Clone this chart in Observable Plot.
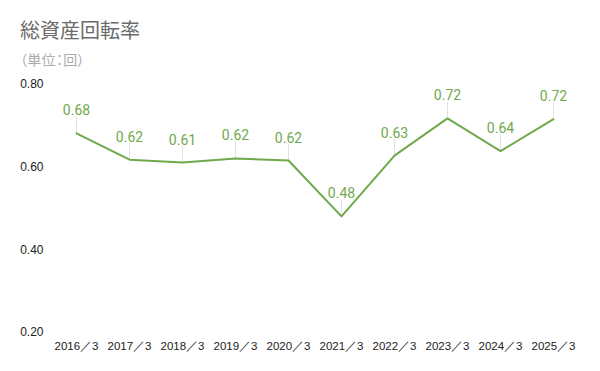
<!DOCTYPE html>
<html>
<head>
<meta charset="utf-8">
<script src="https://cdn.jsdelivr.net/npm/d3@7"></script>
<script src="https://cdn.jsdelivr.net/npm/@observablehq/plot@0.6"></script>
<style>
  html, body { margin: 0; padding: 0; background: #fff; }
  #wrap { position: relative; width: 600px; height: 371px; overflow: hidden; }
  #title { position: absolute; left: 20px; top: 20px; font: 20px/20px "Noto Sans CJK JP", sans-serif; color: #6b6b6b; white-space: nowrap; }
  #subtitle { position: absolute; left: 20px; top: 52px; font: 14px/14px "Noto Sans CJK JP", sans-serif; color: #aaaaaa; white-space: nowrap; font-feature-settings: "palt"; letter-spacing: 0.3px; }
  #chart { position: absolute; left: 0; top: 70px; }
</style>
</head>
<body>
<div id="wrap">
  <div id="title">総資産回転率</div>
  <div id="subtitle">（単位：回）</div>
  <div id="chart"></div>
</div>
<script>
const periods = ["2016／3", "2017／3", "2018／3", "2019／3", "2020／3", "2021／3", "2022／3", "2023／3", "2024／3", "2025／3"];
const turnover = [0.682, 0.618, 0.611, 0.621, 0.616, 0.481, 0.628, 0.718, 0.639, 0.716];
const yTicks = [0.2, 0.4, 0.6, 0.8];

const data = periods.map((p, i) => ({period: p, value: turnover[i]}));
const fmt = d3.format(".2f");
const green = "#6fa94c";

const chart = Plot.plot({
  width: 600,
  height: 301,
  marginTop: 14,
  marginBottom: 39,
  marginLeft: 48,
  marginRight: 19,
  style: {fontFamily: "'Liberation Sans', Arial, sans-serif", fontSize: "12px", color: "#222", background: "transparent"},
  x: {type: "point", domain: periods, padding: 0.5},
  y: {domain: [0.2, 0.8]},
  marks: [
    Plot.axisY({ticks: yTicks, tickFormat: fmt, tickSize: 0, tickPadding: 5, label: null, fontSize: 12}),
    Plot.axisX({tickSize: 0, tickPadding: 9, label: null, fontSize: 11.5}),
    Plot.ruleX(data, {x: "period", y1: "value", y2: "value", insetTop: -16, stroke: "#e2e2e2", strokeWidth: 1}),
    Plot.line(data, {x: "period", y: "value", stroke: green, strokeWidth: 2}),
    Plot.text(data, {x: "period", y: "value", text: d => fmt(d.value), dy: -18, lineAnchor: "bottom", fill: green, fontSize: 14, fontFamily: "Roboto, sans-serif"})
  ]
});
document.getElementById("chart").appendChild(chart);
</script>
</body>
</html>
